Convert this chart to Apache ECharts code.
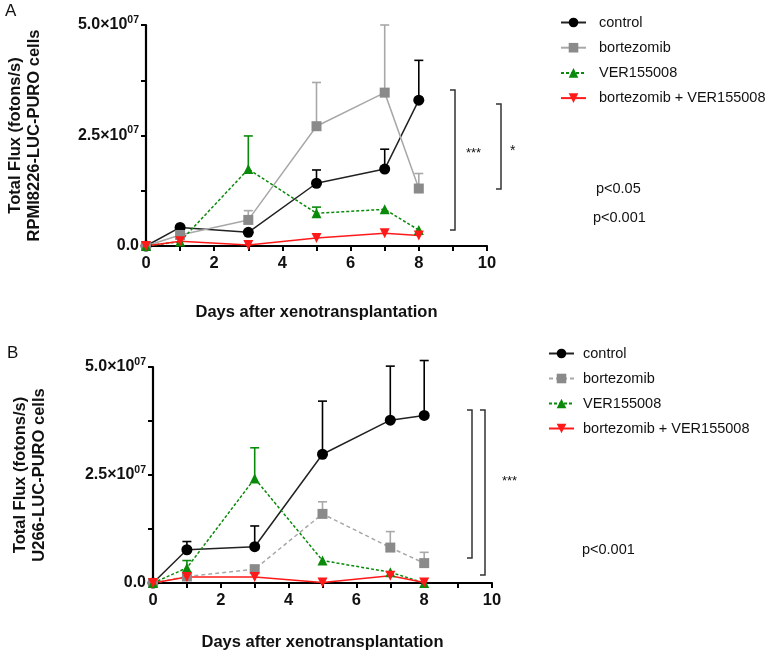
<!DOCTYPE html>
<html>
<head>
<meta charset="utf-8">
<script src="https://cdn.jsdelivr.net/npm/echarts@6/dist/echarts.min.js"></script>
<style>
  html, body { margin: 0; padding: 0; background: #fff; }
  #chart { width: 766px; height: 661px; }
</style>
</head>
<body>
<div id="chart"></div>
<script>
// Days of measurement (shared by both panels)
const days = [0, 1, 3, 5, 7, 8];
const seriesNames = ["control", "bortezomib", "VER155008", "bortezomib + VER155008"];
const xTicks = [0, 2, 4, 6, 8, 10];
const yTicks = [0, 2.5e7, 5e7];

// Panel A: RPMI8226-LUC-PURO (mean, upper SEM)
const controlA = [0, 4.2e6, 3.1e6, 14.2e6, 17.4e6, 33.0e6];
const controlErrA = [0, 0, 0, 3.0e6, 4.5e6, 9.0e6];
const bortA = [0, 2.5e6, 5.9e6, 27.1e6, 34.7e6, 13.0e6];
const bortErrA = [0, 0, 2.1e6, 9.9e6, 15.3e6, 3.4e6];
const verA = [0, 1.0e6, 17.4e6, 7.4e6, 8.3e6, 3.6e6];
const verErrA = [0, 0, 7.5e6, 1.4e6, 0, 0];
const comboA = [0, 1.1e6, 0.2e6, 1.8e6, 2.9e6, 2.4e6];
const comboErrA = [0, 0, 0, 0, 0, 0];

// Panel B: U266-LUC-PURO
const controlB = [0, 7.7e6, 8.4e6, 29.8e6, 37.7e6, 38.8e6];
const controlErrB = [0, 1.9e6, 4.8e6, 12.3e6, 12.5e6, 12.7e6];
const bortB = [0, 1.5e6, 3.2e6, 16.0e6, 8.2e6, 4.6e6];
const bortErrB = [0, 0, 0, 2.8e6, 3.7e6, 2.5e6];
const verB = [0, 3.5e6, 24.2e6, 5.2e6, 2.5e6, 0];
const verErrB = [0, 1.7e6, 7.1e6, 0, 0, 0];
const comboB = [0, 1.4e6, 1.4e6, 0.1e6, 1.7e6, 0.1e6];
const comboErrB = [0, 0, 0, 0, 0, 0];

const FONT = "Arial, 'Liberation Sans', sans-serif";
const BLACK = "#000";
const GREY = "#8a8a8a";
const GREY_LINE = "#a8a8a8";
const GREEN = "#0a8a0a";
const RED = "#ff1a1a";

const chart = echarts.init(document.getElementById("chart"), null, { renderer: "canvas" });

function yLabel(v) {
  if (v === 0) return "0.0";
  return (v / 1e7).toFixed(1) + "×10{sup|07}";
}

function xAxis(gi, gap) {
  return {
    gridIndex: gi, type: "value", min: 0, max: 10, interval: 2,
    name: "Days after xenotransplantation", nameLocation: "middle", nameGap: gap,
    nameTextStyle: { fontFamily: FONT, fontWeight: "bold", fontSize: 16.5, color: "#111" },
    axisLine: { onZero: false, lineStyle: { color: BLACK, width: 2.2 } },
    axisTick: { length: 5, lineStyle: { color: BLACK, width: 2 } },
    minorTick: { show: true, splitNumber: 2, length: 5, lineStyle: { color: BLACK, width: 2 } },
    axisLabel: { fontFamily: FONT, fontWeight: "bold", fontSize: 16.5, color: "#111", margin: 9,
      formatter: v => xTicks.includes(v) ? String(v) : "" },
    splitLine: { show: false },
  };
}

function yAxis(gi, title, gap) {
  return {
    gridIndex: gi, type: "value", min: 0, max: 5e7, interval: 2.5e7,
    name: title, nameLocation: "middle", nameRotate: 90, nameGap: gap,
    nameTextStyle: { fontFamily: FONT, fontWeight: "bold", fontSize: 16.5, color: "#111", lineHeight: 19 },
    axisLine: { show: true, lineStyle: { color: BLACK, width: 2.2 } },
    axisTick: { length: 5, lineStyle: { color: BLACK, width: 2 } },
    minorTick: { show: true, splitNumber: 2, length: 5, lineStyle: { color: BLACK, width: 2 } },
    axisLabel: {
      fontFamily: FONT, fontWeight: "bold", fontSize: 16, color: "#111", margin: 7,
      formatter: v => yTicks.includes(v) ? yLabel(v) : "",
      rich: { sup: { fontFamily: FONT, fontWeight: "bold", fontSize: 10.5, color: "#111", padding: [0, 0, 10, 0] } },
    },
    splitLine: { show: false },
  };
}

function lineSeries(name, vals, gi, color, lineColor, symbol, type, rotate) {
  return {
    name, type: "line", xAxisIndex: gi, yAxisIndex: gi,
    data: days.map((d, i) => [d, vals[i]]),
    symbol, symbolSize: symbol === "circle" ? 11 : 10, symbolRotate: rotate || 0,
    itemStyle: { color },
    lineStyle: { color: lineColor, width: 1.5, type },
    z: 3, animation: false,
  };
}

function errSeries(vals, errs, gi, color) {
  return {
    type: "custom", xAxisIndex: gi, yAxisIndex: gi, silent: true, z: 2, animation: false,
    data: days.map((d, i) => [d, vals[i], errs[i]]),
    renderItem: (params, api) => {
      const e = api.value(2);
      if (!e) return;
      const p0 = api.coord([api.value(0), api.value(1)]);
      const p1 = api.coord([api.value(0), api.value(1) + e]);
      const st = { stroke: color, lineWidth: 1.6 };
      return {
        type: "group",
        children: [
          { type: "line", shape: { x1: p0[0], y1: p0[1], x2: p1[0], y2: p1[1] }, style: st },
          { type: "line", shape: { x1: p1[0] - 4.5, y1: p1[1], x2: p1[0] + 4.5, y2: p1[1] }, style: st },
        ],
      };
    },
  };
}

function legend(left, top, gap, padLeft, bortDashed) {
  return {
    left, top, orient: "vertical", itemWidth: 25, itemHeight: 12, itemGap: gap,
    selectedMode: false,
    textStyle: { fontFamily: FONT, fontSize: 14.5, color: "#111", padding: [0, 0, 0, padLeft] },
    data: seriesNames.map(n => {
      if (n === "bortezomib" && bortDashed) {
        return { name: n, lineStyle: { type: [4, 3], color: GREY_LINE } };
      }
      return { name: n };
    }),
  };
}

function bracket(x, y1, y2) {
  return {
    type: "polyline", silent: true,
    shape: { points: [[x - 5, y1], [x, y1], [x, y2], [x - 5, y2]] },
    style: { stroke: "#333", lineWidth: 1.5, fill: null },
  };
}

function label(text, x, y, opts) {
  return {
    type: "text", x, y, silent: true,
    style: Object.assign({ text, fontFamily: FONT, fontSize: 14.5, fill: "#111", verticalAlign: "middle" }, opts || {}),
  };
}

chart.setOption({
  backgroundColor: "#fff",
  animation: false,
  grid: [
    { left: 146, top: 25, width: 341, height: 221, outerBoundsMode: "none" },
    { left: 153, top: 367, width: 339, height: 216, outerBoundsMode: "none" },
  ],
  xAxis: [xAxis(0, 58), xAxis(1, 51)],
  yAxis: [
    yAxis(0, "Total Flux (fotons/s)\nRPMI8226-LUC-PURO cells", 102.5),
    yAxis(1, "Total Flux (fotons/s)\nU266-LUC-PURO cells", 104.5),
  ],
  legend: [legend(555, 10, 10.2, 8, false), legend(543, 341, 10, 4, true)],
  series: [
    errSeries(controlA, controlErrA, 0, BLACK),
    errSeries(bortA, bortErrA, 0, GREY_LINE),
    errSeries(verA, verErrA, 0, GREEN),
    errSeries(comboA, comboErrA, 0, RED),
    lineSeries("control", controlA, 0, BLACK, "#222", "circle", "solid"),
    lineSeries("bortezomib", bortA, 0, GREY, GREY_LINE, "rect", "solid"),
    lineSeries("VER155008", verA, 0, GREEN, GREEN, "triangle", [3, 2]),
    lineSeries("bortezomib + VER155008", comboA, 0, RED, RED, "triangle", "solid", 180),

    errSeries(controlB, controlErrB, 1, BLACK),
    errSeries(bortB, bortErrB, 1, GREY_LINE),
    errSeries(verB, verErrB, 1, GREEN),
    errSeries(comboB, comboErrB, 1, RED),
    lineSeries("control", controlB, 1, BLACK, "#222", "circle", "solid"),
    lineSeries("bortezomib", bortB, 1, GREY, GREY_LINE, "rect", [4, 3]),
    lineSeries("VER155008", verB, 1, GREEN, GREEN, "triangle", [3, 2]),
    lineSeries("bortezomib + VER155008", comboB, 1, RED, RED, "triangle", "solid", 180),
  ],
  graphic: [
    label("A", 5, 11, { fontSize: 17 }),
    label("B", 7, 353, { fontSize: 17 }),
    // panel A significance
    bracket(455, 90, 230),
    bracket(501, 104, 189),
    label("***", 466, 153, { fontSize: 13 }),
    label("*", 510, 151, { fontSize: 14 }),
    label("p<0.05", 596, 189),
    label("p<0.001", 593, 218),
    // panel B significance
    bracket(472, 410, 558),
    bracket(485, 410, 575),
    label("***", 502, 481, { fontSize: 13 }),
    label("p<0.001", 582, 550),
  ],
});
</script>
</body>
</html>
